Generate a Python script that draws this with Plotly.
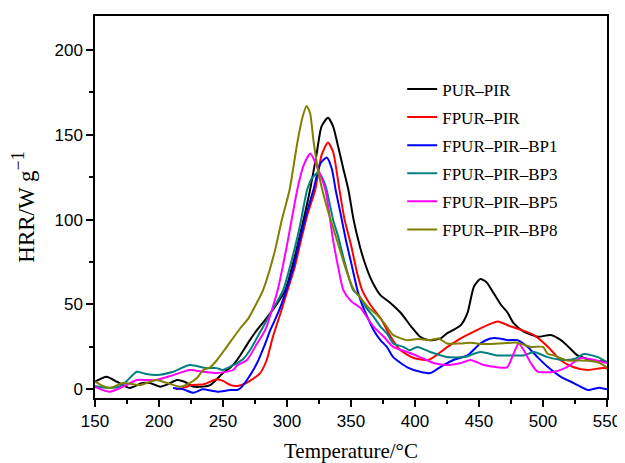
import plotly.graph_objects as go

# ---------------- data ----------------
pur_x = [150,159,167,177,187,193,201,207,214,220,226.7,234.6,240,250,256,261,266,271,276.6,283,290,298.7,305,312,318,323,327,332,336,340,344,348,352,357,361,365,369,373,381,389,397,404,411,420,425,430,436,441,446,451,456,461.5,467,472.5,477,485,496,506,514,520,527,534,540,546,550]
pur_y = [4.5,7.4,4.5,0.8,3.7,3.7,1.6,3,5.5,4.5,1.6,1.6,2.5,9.6,13,17.3,23,29,35,41,48,58.5,75,97,117.5,138,155,160,155,143,130,117.5,100,84,74,66,60,55.5,50.8,45,37,31,29,30,33,35,38,45,60.5,65,63,56.6,50,45,39,34,31,32,29,25,20,18,17,16.5,16]

fp_x = [213,220,225,235,245,250,256,261,266,271,279,284,289,295,300.5,306,311,316,322,327,332,336,341,345,350,355,358.7,365,373,381,388.7,399,410,414.6,420,425.5,435.7,446,457,464.7,475,483,493,504,514,524,535,545,550]
fp_y = [0,1,2.5,3,6,5,2.5,2,3,5,9.6,17,31,45,58.5,72,88,103,117.5,138,145.4,140,117.5,100,85,68,58.5,50,42,31,23,18.5,17.3,19,22,25,30,34,38,40,37,35,32,25,17,13,11.4,12.5,12.5]

bp1_x = [211,219,226.7,234,245.5,255.7,261,263.5,268.7,276.6,283,287,293,299.5,305,310,315,320.6,326,331,335,338,342,346,350,355,357.4,362,367.6,373,378,383,394,404,412,420,430,441,451,459,466,472,480,488,495.7,503.6,514,524,535,544,550]
bp1_y = [0.8,0,-2,0,-1.4,-0.4,-0.4,0.6,5.5,15.5,27,35,45,58.5,72,88,103,117.5,133,136.6,130,117.5,103,88,75,58.5,52.6,44,35,29,25,19,13,10.4,9.6,13.3,17.3,20,27,30,30,29,29,25,19,13.3,7.4,3.7,-0.4,1,0]

bp3_x = [150,158,165,170,175,182.6,190,198,211,224,237,245,250,258,261,266,271,280,288,297,305,310,315.7,320,324.6,328,331,336,340,345,351.7,357,362,367.6,373,378,383,391,396,401.7,412,425,438.5,451,464,475,485,493,503.6,516,525,532,542.7,550]
bp3_y = [2,1,1,2,5,10.4,9,8.4,10.4,14.3,12.5,12.5,11.4,14.3,15.5,18,23,35,46,58.5,80,96,117.5,125,127.7,124,117.5,100,90,75,58.5,54.6,48,42.8,37,33,27,25,23,25,22,19,19,22,20,20,20,22,19,17.3,18,20.8,19,16]

bp5_x = [150,161.7,172,182.6,190,198,211,224,234.6,245,250,258,261,268.7,276.6,283,292.7,300,308,313,318.3,323,330,336,340,344,350,357.4,362,367.6,375.6,383,394,404,414.6,425,435.7,443.5,453.7,464.4,472,477,481,485,490.5,495.7,508.5,519,529.6,540,550]
bp5_y = [1.5,-1.4,1.6,5.5,5.5,5.5,8.4,11.4,10.4,9.6,10,11.4,14,17.3,27,35,58.5,85,117.5,132,139,132,117.5,88,72,58.5,52,48,43,37,31,25,22,19,15.5,14.3,15.5,17.3,14.3,13,13,21,27,23,15.5,10.4,10.4,13.3,18.5,17.3,15.5]

bp8_x = [150,156,161.7,172,185,198,205,216.5,224,230,234.6,240,245,250,255.7,263.5,270,275,281.3,290,296,302,308,312,315.2,318,320.6,324.6,331,339,347,352,357.4,364,370.5,377,383,394,402,412,418.5,425,435,443.5,451,465,480,490.5,500,503.6,508.5,519,530,542.7,550]
bp8_y = [4.5,2,0.8,3.7,2.5,5.5,4,1.6,3.7,7,11.4,13,17,22,28,36,42,49,58.5,80,100,117.5,145,160,167,163,147,127.5,107.7,88,68.5,59,53.8,48,43.8,38,32,29,29.6,29,30,27,27,27.5,26.7,27,27.5,25,25,21,20,17,17,16,13]

names = ["PUR\u2013PIR", "FPUR\u2013PIR", "FPUR\u2013PIR\u2013BP1",
         "FPUR\u2013PIR\u2013BP3", "FPUR\u2013PIR\u2013BP5", "FPUR\u2013PIR\u2013BP8"]
colors = ["#000000", "#ff0000", "#0000ff", "#008080", "#ff00ff", "#808000"]

x_ticks = [150, 200, 250, 300, 350, 400, 450, 500, 550]
y_ticks = [0, 50, 100, 150, 200]

series = [(pur_x, pur_y), (fp_x, fp_y), (bp1_x, bp1_y),
          (bp3_x, bp3_y), (bp5_x, bp5_y), (bp8_x, bp8_y)]

fig = go.Figure()
for i, ((xs, ys), nm, col) in enumerate(zip(series, names, colors)):
    fig.add_trace(go.Scatter(
        x=xs, y=ys, mode="lines", name=nm, legendgroup=f"g{i}",
        line=dict(color=col, width=2, shape="spline", smoothing=0.6),
    ))

axis_common = dict(
    showline=True, linecolor="black", linewidth=1.5, mirror=True,
    showgrid=False, zeroline=False, automargin=False,
    ticks="outside", ticklen=7, tickwidth=1.5, tickcolor="black",
    tickfont=dict(family="Liberation Sans, Arial, sans-serif", size=17, color="black"),
)

serif = "Liberation Serif, Times New Roman, serif"

fig.update_xaxes(
    range=[150, 550], tickvals=x_ticks, ticktext=[str(v) for v in x_ticks],
    minor=dict(ticks="outside", ticklen=4, tickwidth=1.5, tickcolor="black", dtick=25, tick0=150),
    title=dict(text="Temperature/\u00b0C", standoff=18,
               font=dict(family=serif, size=21, color="black")),
    **axis_common,
)
fig.update_yaxes(
    range=[-5.1, 220], tickvals=y_ticks, ticktext=[str(v) for v in y_ticks],
    minor=dict(ticks="outside", ticklen=4, tickwidth=1.5, tickcolor="black", dtick=25, tick0=0),
    title=dict(text="HRR/W g<sup><span style='font-size:18px'>\u22121</span></sup>", standoff=21,
               font=dict(family=serif, size=23, color="black")),
    **axis_common,
)

# the page body has an 8px margin, so the figure is sized to fit the 625x463 window
fig.update_layout(
    width=617, height=455,
    margin=dict(l=87, r=18, t=8, b=65),
    paper_bgcolor="white", plot_bgcolor="white",
    showlegend=True,
    legend=dict(
        x=0.60, y=0.855, xanchor="left", yanchor="top",
        font=dict(family=serif, size=17, color="black"),
        bgcolor="rgba(255,255,255,0)", tracegroupgap=3,
    ),
)

fig.write_html("out.html")
